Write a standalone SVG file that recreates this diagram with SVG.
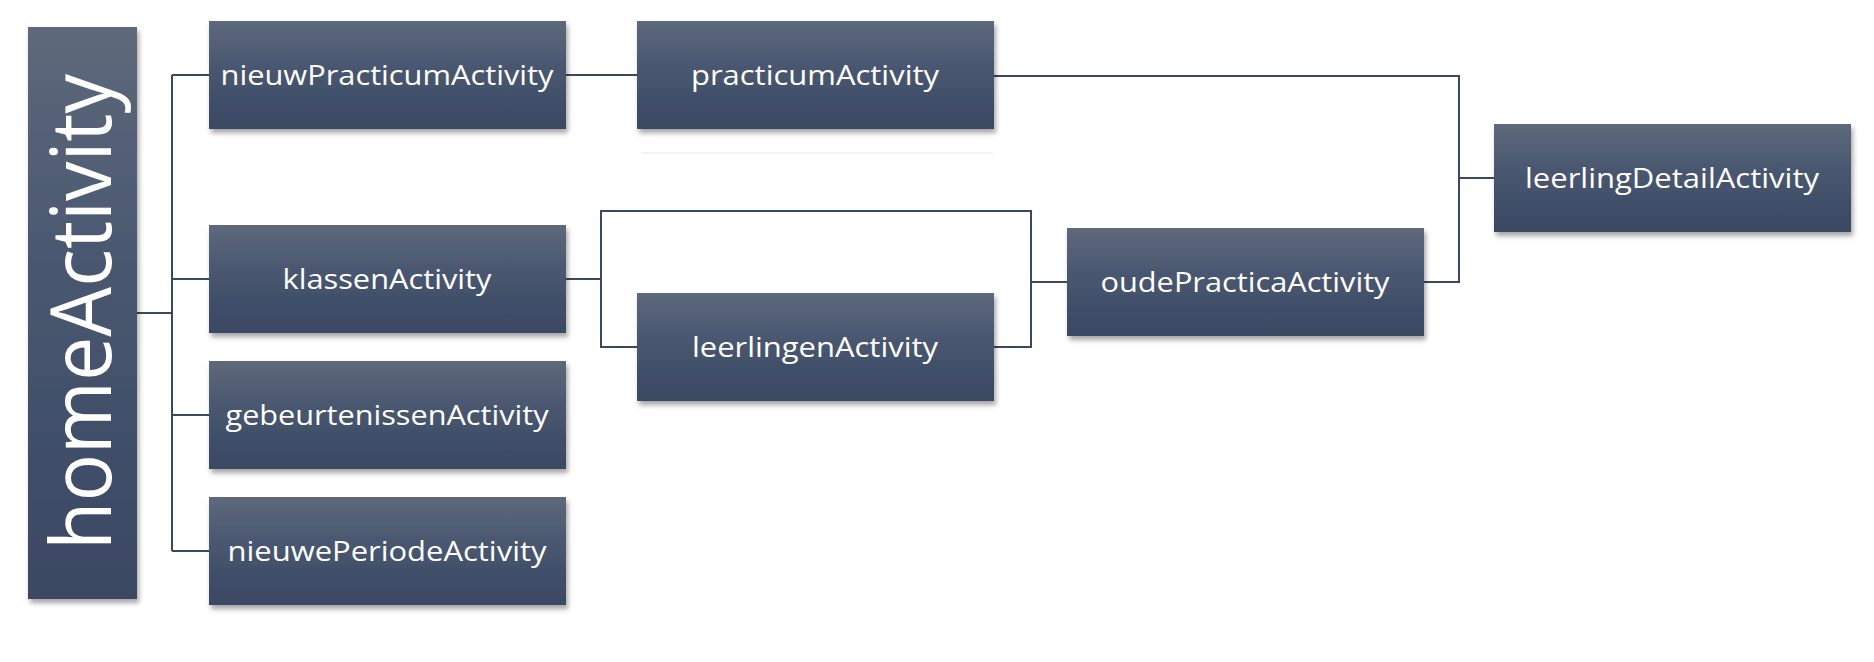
<svg xmlns="http://www.w3.org/2000/svg" width="1874" height="662" viewBox="0 0 1874 662">
<defs>
<linearGradient id="g" x1="0" y1="0" x2="0" y2="1">
<stop offset="0" stop-color="#5e697b"/>
<stop offset="0.45" stop-color="#48566f"/>
<stop offset="1" stop-color="#3a4863"/>
</linearGradient>
<filter id="sh" x="-10%" y="-10%" width="125%" height="135%">
<feDropShadow dx="2" dy="4" stdDeviation="2.5" flood-color="#000" flood-opacity="0.35"/>
</filter>
<style>
.box{fill:url(#g);filter:url(#sh)}
.lbl{fill:#ffffff;font-family:"Open Sans","Noto Sans",sans-serif;font-size:28px;text-anchor:middle}
.con{fill:none;stroke:#3b4862;stroke-width:2}
</style>
</defs>
<rect width="1874" height="662" fill="#ffffff"/>
<line x1="642" y1="153" x2="993" y2="153" stroke="#f2f3f5" stroke-width="2"/>
<g id="connectors">
<path class="con" d="M137 313H172M172 75V551M172 75H209M172 279H209M172 415H209M172 551H209"/>
<path class="con" d="M566 75H637"/>
<path class="con" d="M566 279H601M637 347H601V211H1031V347H994M1031 282H1067"/>
<path class="con" d="M994 76H1459V282H1424M1459 178H1494"/>
</g>
<g id="homeActivity">
<rect class="box" x="28" y="27" width="109" height="572"/>
<text class="lbl" transform="translate(111,312) rotate(-90)" style="font-size:84px" textLength="476" lengthAdjust="spacingAndGlyphs">homeActivity</text>
</g>
<g id="nieuwPracticumActivity">
<rect class="box" x="209" y="21" width="357" height="108"/>
<text class="lbl" x="387" y="85" textLength="333" lengthAdjust="spacingAndGlyphs">nieuwPracticumActivity</text>
</g>
<g id="klassenActivity">
<rect class="box" x="209" y="225" width="357" height="108"/>
<text class="lbl" x="387" y="289" textLength="209" lengthAdjust="spacingAndGlyphs">klassenActivity</text>
</g>
<g id="gebeurtenissenActivity">
<rect class="box" x="209" y="361" width="357" height="108"/>
<text class="lbl" x="387" y="425" textLength="323" lengthAdjust="spacingAndGlyphs">gebeurtenissenActivity</text>
</g>
<g id="nieuwePeriodeActivity">
<rect class="box" x="209" y="497" width="357" height="108"/>
<text class="lbl" x="387" y="561" textLength="319" lengthAdjust="spacingAndGlyphs">nieuwePeriodeActivity</text>
</g>
<g id="practicumActivity">
<rect class="box" x="637" y="21" width="357" height="108"/>
<text class="lbl" x="815" y="85" textLength="248" lengthAdjust="spacingAndGlyphs">practicumActivity</text>
</g>
<g id="leerlingenActivity">
<rect class="box" x="637" y="293" width="357" height="108"/>
<text class="lbl" x="815" y="357" textLength="246" lengthAdjust="spacingAndGlyphs">leerlingenActivity</text>
</g>
<g id="oudePracticaActivity">
<rect class="box" x="1067" y="228" width="357" height="108"/>
<text class="lbl" x="1245" y="292" textLength="289" lengthAdjust="spacingAndGlyphs">oudePracticaActivity</text>
</g>
<g id="leerlingDetailActivity">
<rect class="box" x="1494" y="124" width="357" height="108"/>
<text class="lbl" x="1672" y="188" textLength="294" lengthAdjust="spacingAndGlyphs">leerlingDetailActivity</text>
</g>
</svg>
